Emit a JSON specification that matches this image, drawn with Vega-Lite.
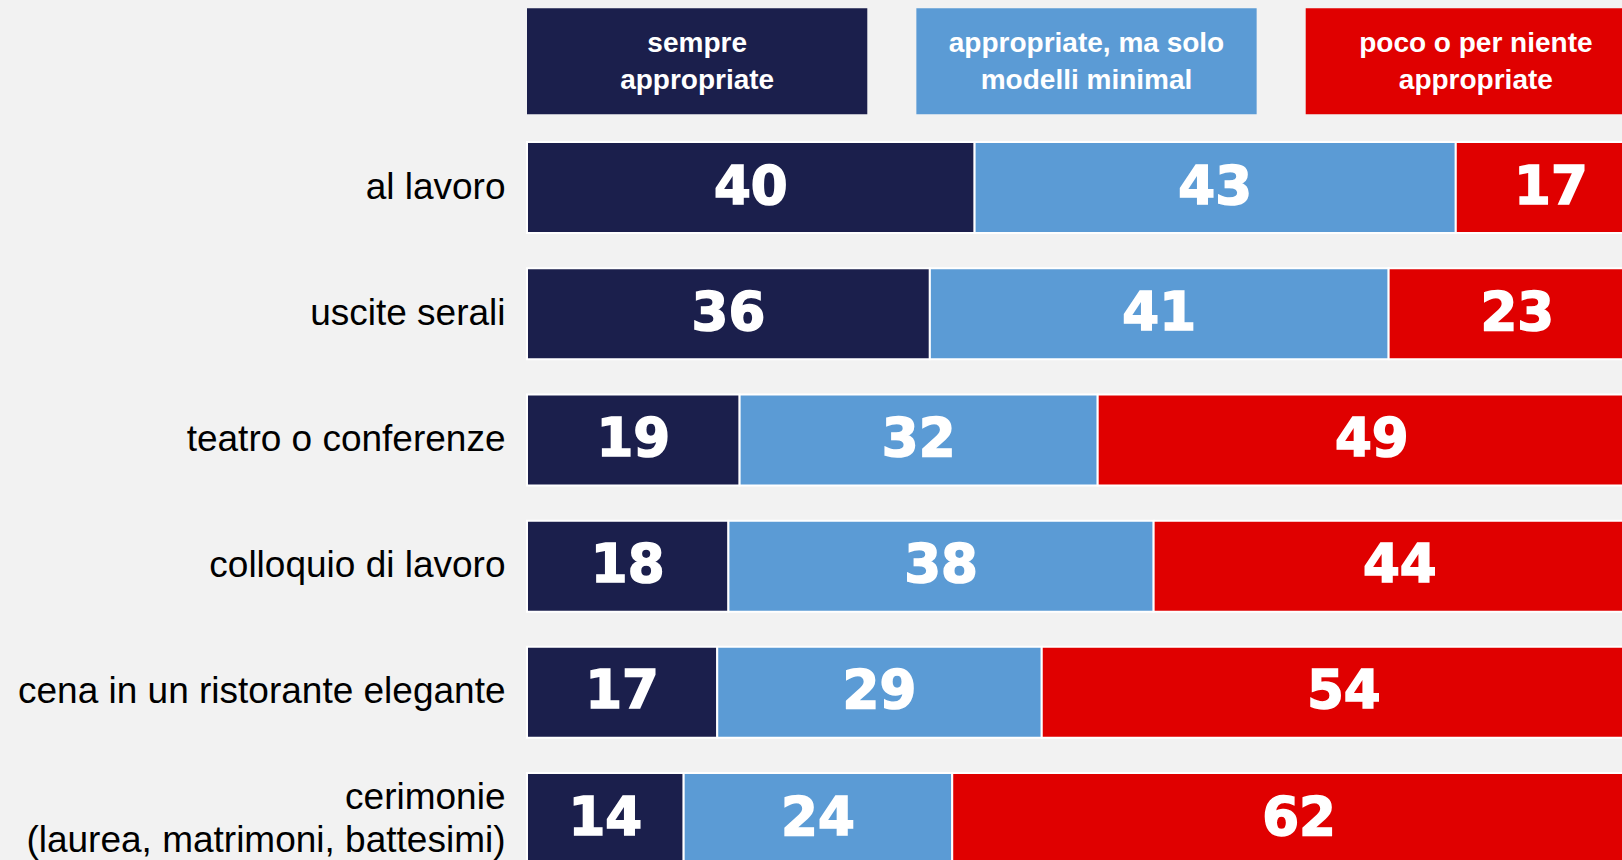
{
  "$schema": "https://vega.github.io/schema/vega-lite/v6.json",
  "background": "#f2f2f2",
  "autosize": {"type": "none"},
  "padding": {"left": 527, "top": 7, "right": -24, "bottom": -21},
  "width": 1119,
  "height": 874,
  "config": {"view": {"stroke": null}, "font": "Liberation Sans"},
  "datasets": {
    "risposte": [
      {"occasione": "al lavoro", "giudizio": "sempre appropriate", "ord": 1, "valore": 40},
      {"occasione": "al lavoro", "giudizio": "appropriate, ma solo modelli minimal", "ord": 2, "valore": 43},
      {"occasione": "al lavoro", "giudizio": "poco o per niente appropriate", "ord": 3, "valore": 17},
      {"occasione": "uscite serali", "giudizio": "sempre appropriate", "ord": 1, "valore": 36},
      {"occasione": "uscite serali", "giudizio": "appropriate, ma solo modelli minimal", "ord": 2, "valore": 41},
      {"occasione": "uscite serali", "giudizio": "poco o per niente appropriate", "ord": 3, "valore": 23},
      {"occasione": "teatro o conferenze", "giudizio": "sempre appropriate", "ord": 1, "valore": 19},
      {"occasione": "teatro o conferenze", "giudizio": "appropriate, ma solo modelli minimal", "ord": 2, "valore": 32},
      {"occasione": "teatro o conferenze", "giudizio": "poco o per niente appropriate", "ord": 3, "valore": 49},
      {"occasione": "colloquio di lavoro", "giudizio": "sempre appropriate", "ord": 1, "valore": 18},
      {"occasione": "colloquio di lavoro", "giudizio": "appropriate, ma solo modelli minimal", "ord": 2, "valore": 38},
      {"occasione": "colloquio di lavoro", "giudizio": "poco o per niente appropriate", "ord": 3, "valore": 44},
      {"occasione": "cena in un ristorante elegante", "giudizio": "sempre appropriate", "ord": 1, "valore": 17},
      {"occasione": "cena in un ristorante elegante", "giudizio": "appropriate, ma solo modelli minimal", "ord": 2, "valore": 29},
      {"occasione": "cena in un ristorante elegante", "giudizio": "poco o per niente appropriate", "ord": 3, "valore": 54},
      {"occasione": "cerimonie\n(laurea, matrimoni, battesimi)", "giudizio": "sempre appropriate", "ord": 1, "valore": 14},
      {"occasione": "cerimonie\n(laurea, matrimoni, battesimi)", "giudizio": "appropriate, ma solo modelli minimal", "ord": 2, "valore": 24},
      {"occasione": "cerimonie\n(laurea, matrimoni, battesimi)", "giudizio": "poco o per niente appropriate", "ord": 3, "valore": 62}
    ],
    "legenda": [
      {"occasione": "legenda", "giudizio": "sempre appropriate", "ord": 1, "etichetta": "sempre\nappropriate"},
      {"occasione": "legenda", "giudizio": "appropriate, ma solo modelli minimal", "ord": 2, "etichetta": "appropriate, ma solo\nmodelli minimal"},
      {"occasione": "legenda", "giudizio": "poco o per niente appropriate", "ord": 3, "etichetta": "poco o per niente\nappropriate"}
    ]
  },
  "encoding": {
    "y": {"field": "occasione", "type": "nominal", "title": null,
          "scale": {"domain": ["legenda", "al lavoro", "uscite serali", "teatro o conferenze", "colloquio di lavoro", "cena in un ristorante elegante", "cerimonie\n(laurea, matrimoni, battesimi)"],
                    "paddingInner": 0.279, "paddingOuter": 0.102, "align": 0.342, "round": false},
          "axis": {"ticks": false, "domain": false, "labelPadding": 22, "labelFontSize": 37, "labelColor": "#000000",
                   "labelFont": "Liberation Sans", "labelLimit": 0, "labelLineHeight": 43,
                   "labelOffset": {"condition": {"test": "indexof(datum.value, 'cerimonie') >= 0", "value": -21}, "value": 0},
                   "labelExpr": "datum.value == 'legenda' ? '' : split(datum.label, '\\n')"}}
  },
  "layer": [
    {
      "data": {"name": "legenda"},
      "encoding": {
        "x": {"field": "giudizio", "type": "nominal", "sort": {"field": "ord"}, "axis": null,
              "scale": {"paddingInner": 0.126, "paddingOuter": 0, "round": false}}
      },
      "layer": [
        {
          "mark": {"type": "rect", "height": {"band": 1.165}},
          "encoding": {
            "color": {"field": "giudizio", "type": "nominal", "legend": null,
                      "scale": {"domain": ["sempre appropriate", "appropriate, ma solo modelli minimal", "poco o per niente appropriate"],
                                "range": ["#1b1f4c", "#5b9bd5", "#e00000"]}}
          }
        },
        {
          "mark": {"type": "text", "color": "white", "font": "Liberation Sans", "fontWeight": "bold", "fontSize": 28,
                   "lineBreak": "\n", "lineHeight": 37, "align": "center", "baseline": "middle", "dy": -17},
          "encoding": {"text": {"field": "etichetta"}}
        }
      ]
    },
    {
      "data": {"name": "risposte"},
      "transform": [
        {"stack": "valore", "groupby": ["occasione"], "sort": [{"field": "ord", "order": "ascending"}], "as": ["inizio", "fine"]},
        {"calculate": "(datum.inizio + datum.fine) / 2", "as": "centro"}
      ],
      "layer": [
        {
          "mark": {"type": "bar", "stroke": "white", "strokeWidth": 2},
          "encoding": {
            "x": {"field": "inizio", "type": "quantitative", "axis": null, "scale": {"domain": [0, 100], "nice": false}},
            "x2": {"field": "fine"},
            "color": {"field": "giudizio", "type": "nominal", "legend": null}
          }
        },
        {
          "mark": {"type": "text", "color": "white", "stroke": "white", "strokeWidth": 1.6, "font": "DejaVu Sans", "fontWeight": "bold", "fontSize": 53,
                   "align": "center", "baseline": "middle"},
          "encoding": {
            "x": {"field": "centro", "type": "quantitative", "axis": null, "scale": {"domain": [0, 100], "nice": false}},
            "text": {"field": "valore", "type": "quantitative"}
          }
        }
      ]
    }
  ],
  "resolve": {"scale": {"x": "independent"}}
}
